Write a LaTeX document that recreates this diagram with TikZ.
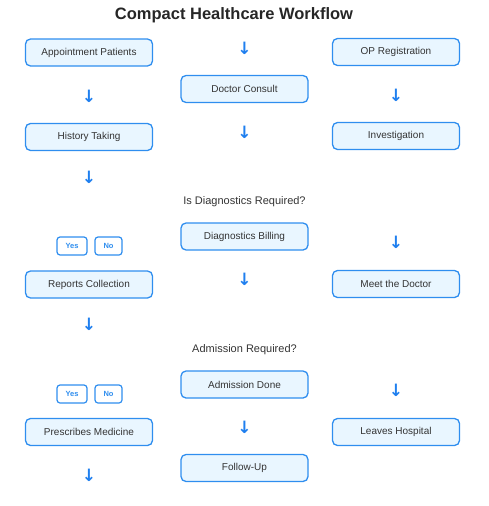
\documentclass[tikz,border=0pt]{standalone}
\usepackage{fontspec}
\setmainfont{Liberation Sans}
\newfontfamily\symfont{DejaVu Sans}
\definecolor{bblue}{HTML}{2F8EEF}
\definecolor{bfill}{HTML}{E9F6FF}
\definecolor{txt}{HTML}{333333}
\definecolor{arrblue}{HTML}{1F7FEF}
\begin{document}
\begin{tikzpicture}[x=1pt,y=-1pt,
  stepbox/.style={draw=bblue, line width=1.3pt, fill=bfill, rounded corners=5pt,
    minimum width=127pt, minimum height=27pt, inner sep=0pt,
    font=\fontsize{10}{12}\selectfont, text=txt},
  choice/.style={draw=bblue, line width=1.2pt, fill=white, rounded corners=3pt,
    minimum height=18pt, inner sep=0pt, font=\bfseries\fontsize{7.5}{9}\selectfont, text=bblue},
  darrow/.style={font=\symfont\bfseries\fontsize{17}{17}\selectfont, text=arrblue, inner sep=0pt},
  question/.style={font=\fontsize{11}{13}\selectfont, text=txt, inner sep=0pt}]
\useasboundingbox (0,0) rectangle (488,506);
\node[font=\bfseries\fontsize{16.5}{19}\selectfont, text=black!85] (title) at (234,15) {Compact Healthcare Workflow};
% left column
\node[stepbox] (ap) at (89,52.5) {Appointment Patients};
\node[stepbox] (ht) at (89,137) {History Taking};
\node[stepbox] (rc) at (89,284.5) {Reports Collection};
\node[stepbox] (pm) at (89,432) {Prescribes Medicine};
% middle column
\node[stepbox] (dc) at (244.5,89) {Doctor Consult};
\node[stepbox] (db) at (244.5,236.5) {Diagnostics Billing};
\node[stepbox] (ad) at (244.5,384.5) {Admission Done};
\node[stepbox] (fu) at (244.5,468) {Follow-Up};
% right column
\node[stepbox] (op) at (396,52) {OP Registration};
\node[stepbox] (inv) at (396,136) {Investigation};
\node[stepbox] (md) at (396,284) {Meet the Doctor};
\node[stepbox] (lh) at (396,432) {Leaves Hospital};
% questions
\node[question] (q1) at (244.5,202) {Is Diagnostics Required?};
\node[question] (q2) at (244.5,350) {Admission Required?};
% yes/no
\node[choice, minimum width=30pt] (y1) at (72,246) {Yes};
\node[choice, minimum width=27pt] (n1) at (108.5,246) {No};
\node[choice, minimum width=30pt] (y2) at (72,394) {Yes};
\node[choice, minimum width=27pt] (n2) at (108.5,394) {No};
% arrows
\node[darrow] (a1) at (244.5,48) {↓};
\node[darrow] (a2) at (244.5,132) {↓};
\node[darrow] (a3) at (244.5,279) {↓};
\node[darrow] (a4) at (244.5,427) {↓};
\node[darrow] (a5) at (89,96) {↓};
\node[darrow] (a6) at (89,177) {↓};
\node[darrow] (a7) at (89,324) {↓};
\node[darrow] (a8) at (89,475) {↓};
\node[darrow] (a9) at (396,95) {↓};
\node[darrow] (a10) at (396,242) {↓};
\node[darrow] (a11) at (396,390) {↓};
\end{tikzpicture}
\end{document}
